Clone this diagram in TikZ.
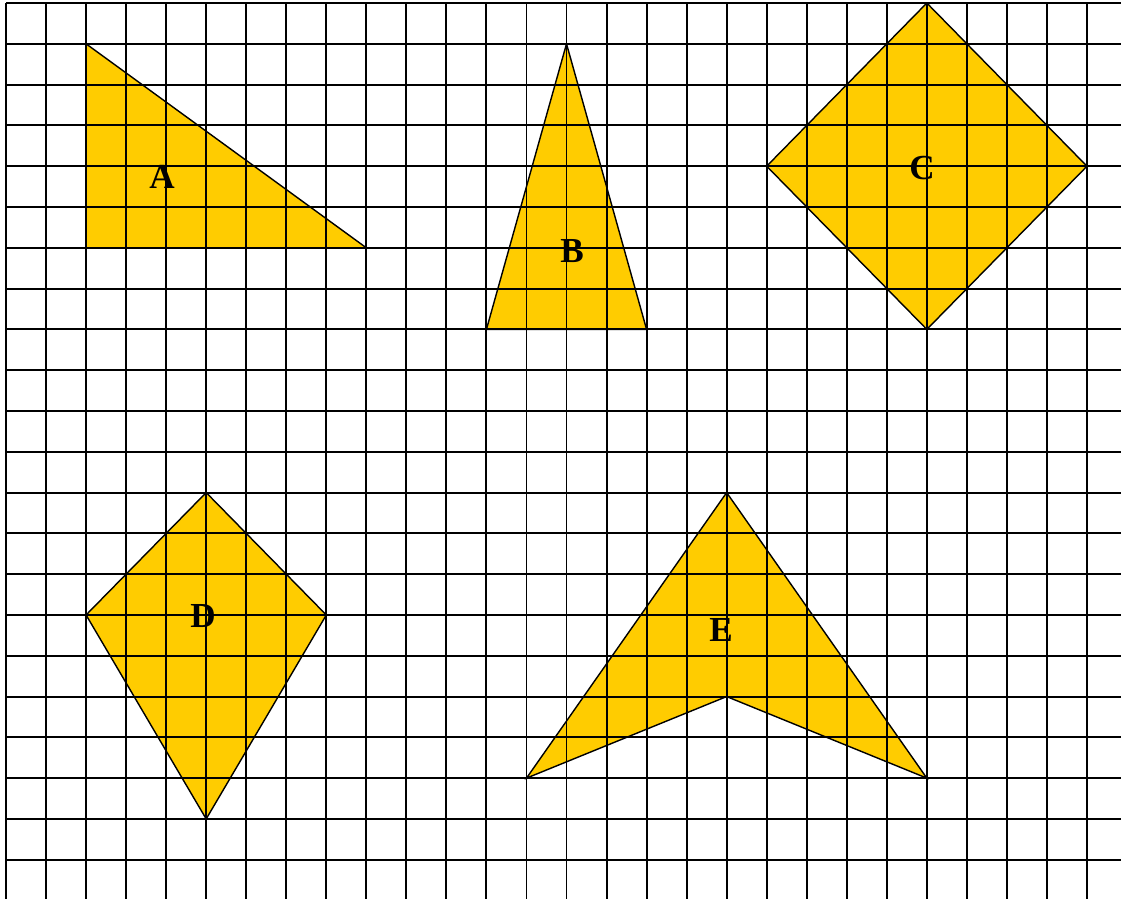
\documentclass[tikz,border=0pt]{standalone}
\usepackage{fontspec}
\setmainfont{Liberation Serif}
\definecolor{figyellow}{HTML}{FFCC00}

\begin{document}
\begin{tikzpicture}[xscale=0.8008,yscale=-0.816,
  grid/.style={black,line width=1.1pt},
  fig/.style={draw=black,line width=0.8pt,line join=miter},
  lbl/.style={font=\fontsize{20}{24}\selectfont\bfseries}]
\useasboundingbox (-0.15,-0.074) rectangle (27.85,21.96);
%Заливка фигур
\fill[figyellow] (2,1)--(2,6)--(9,6)--cycle;%A
\fill[figyellow] (14,1)--(12,8)--(16,8)--cycle;%B
\fill[figyellow] (23,0)--(27,4)--(23,8)--(19,4)--cycle;%C
\fill[figyellow] (5,12)--(8,15)--(5,20)--(2,15)--cycle;%D
\fill[figyellow] (18,12)--(23,19)--(18,17)--(13,19)--cycle;%E
%Сетка
\foreach \x in {0,...,27} \draw[grid] (\x,0)--(\x,21.96);
\foreach \y in {0,...,21} \draw[grid] (0,\y)--(27.85,\y);
%Контуры фигур
\draw[fig] (2,1)--(2,6)--(9,6)--cycle;
\draw[fig] (14,1)--(12,8)--(16,8)--cycle;
\draw[fig] (23,0)--(27,4)--(23,8)--(19,4)--cycle;
\draw[fig] (5,12)--(8,15)--(5,20)--(2,15)--cycle;
\draw[fig] (18,12)--(23,19)--(18,17)--(13,19)--cycle;
%Подписи
\node[lbl] (labA) at (3.9,4.26) {A};
\node[lbl] (labB) at (14.14,6.08) {B};
\node[lbl] (labC) at (22.88,4.04) {C};
\node[lbl] (labD) at (4.92,15.02) {D};
\node[lbl] (labE) at (17.86,15.37) {E};
\end{tikzpicture}
\end{document}
